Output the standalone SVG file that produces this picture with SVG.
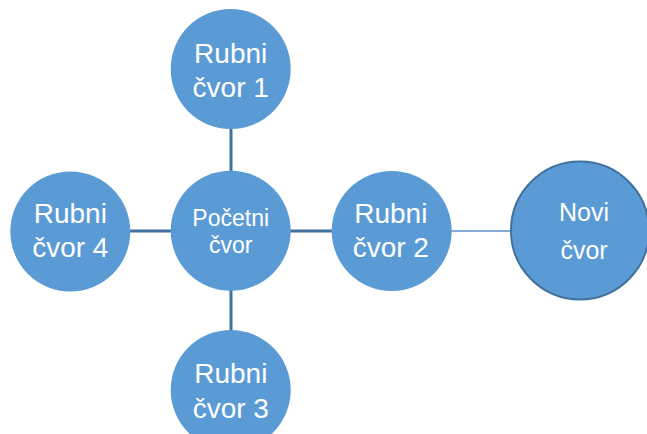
<svg xmlns="http://www.w3.org/2000/svg" width="647" height="434" viewBox="0 0 647 434">
<style>
.n{fill:#5B9BD5;}
.t{font-family:"Liberation Sans",Arial,sans-serif;fill:#FFFFFF;text-anchor:middle;}
.c{stroke:#41719C;stroke-width:3;fill:none;}
</style>
<rect width="647" height="434" fill="#FFFFFF"/>
<g id="connectors">
<line class="c" x1="231" y1="129" x2="231" y2="171"/>
<line class="c" x1="130" y1="231" x2="171" y2="231"/>
<line class="c" x1="290" y1="231" x2="332" y2="231"/>
<line class="c" x1="231" y1="290" x2="231" y2="331"/>
<line x1="451" y1="231" x2="512" y2="231" stroke="#5B8FC4" stroke-width="1.3"/>
</g>
<g id="rubni1">
<circle class="n" cx="230.7" cy="69" r="60"/>
<text class="t" font-size="28" x="230.7" y="63.3">Rubni</text>
<text class="t" font-size="28" x="230.7" y="96.7">čvor 1</text>
</g>
<g id="rubni4">
<circle class="n" cx="70.3" cy="231.5" r="60"/>
<text class="t" font-size="28" x="70.3" y="222.7">Rubni</text>
<text class="t" font-size="28" x="70.3" y="257.3">čvor 4</text>
</g>
<g id="pocetni">
<circle class="n" cx="230.7" cy="230.7" r="60"/>
<text class="t" font-size="23" x="230.7" y="225.7">Početni</text>
<text class="t" font-size="23" x="230.7" y="252.7">čvor</text>
</g>
<g id="rubni2">
<circle class="n" cx="391.7" cy="231" r="60"/>
<text class="t" font-size="28" x="390.8" y="222.7">Rubni</text>
<text class="t" font-size="28" x="390.8" y="256.7">čvor 2</text>
</g>
<g id="rubni3">
<circle class="n" cx="230.7" cy="390" r="60"/>
<text class="t" font-size="28" x="230.8" y="383.3">Rubni</text>
<text class="t" font-size="28" x="230.8" y="418.3">čvor 3</text>
</g>
<g id="novi">
<circle class="n" cx="580" cy="230.5" r="69" stroke="#41719C" stroke-width="2"/>
<text class="t" font-size="25" x="584" y="221">Novi</text>
<text class="t" font-size="25" x="584" y="259.3">čvor</text>
</g>
</svg>
